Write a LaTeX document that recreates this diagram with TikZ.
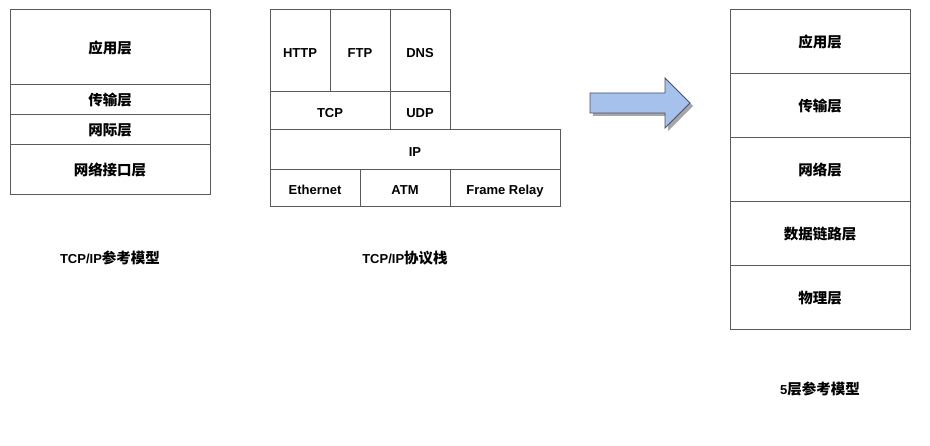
\documentclass[tikz,border=0pt]{standalone}
\usepackage{fontspec}
\setmainfont{Liberation Sans}
\newfontfamily\cjk{Noto Sans CJK SC}
\newcommand\zhtext[1]{{\cjk\bfseries\fontsize{14.5}{16}\selectfont #1}}
\definecolor{linegray}{RGB}{90,90,90}
\definecolor{arrowfill}{RGB}{166,194,236}
\definecolor{arrowline}{RGB}{70,80,100}
\begin{document}
\begin{tikzpicture}[x=1pt,y=-1pt,
  box/.style={draw=linegray, line width=1pt, inner sep=0pt, outer sep=0pt,
    anchor=north west, font=\fontsize{13}{15}\selectfont\bfseries},
  ltext/.style={text height=12.2pt, text depth=0pt},
  captext/.style={font=\fontsize{13}{15}\selectfont\bfseries, inner sep=0pt}]
\useasboundingbox[fill=white] (0,0) rectangle (930,446);
% left stack
\node[box, minimum width=200pt, minimum height=75pt] (l1) at (10,10) {\zhtext{应用层}};
\node[box, minimum width=200pt, minimum height=30pt] (l2) at (10,85) {\zhtext{传输层}};
\node[box, minimum width=200pt, minimum height=30pt] (l3) at (10,115) {\zhtext{网际层}};
\node[box, minimum width=200pt, minimum height=50pt] (l4) at (10,145) {\zhtext{网络接口层}};
\node[captext] (lcap) at (110,258) {TCP/IP\zhtext{参考模型}};
% middle stack
\node[box, ltext, minimum width=60pt, minimum height=82pt] (http) at (270,10) {HTTP};
\node[box, ltext, minimum width=60pt, minimum height=82pt] (ftp) at (330,10) {FTP};
\node[box, ltext, minimum width=60pt, minimum height=82pt] (dns) at (390,10) {DNS};
\node[box, ltext, minimum width=120pt, minimum height=38pt] (tcp) at (270,92) {TCP};
\node[box, ltext, minimum width=60pt, minimum height=38pt] (udp) at (390,92) {UDP};
\node[box, ltext, minimum width=290pt, minimum height=40pt] (ip) at (270,130) {IP};
\node[box, ltext, minimum width=90pt, minimum height=37pt] (eth) at (270,170) {Ethernet};
\node[box, ltext, minimum width=90pt, minimum height=37pt] (atm) at (360,170) {ATM};
\node[box, ltext, minimum width=110pt, minimum height=37pt] (fr) at (450,170) {Frame Relay};
\node[captext] (mcap) at (405,258) {TCP/IP\zhtext{协议栈}};
% arrow
\fill[black!35] (593,96) -- (668,96) -- (668,81) -- (693,106) -- (668,131) -- (668,116) -- (593,116) -- cycle;
\draw[fill=arrowfill, draw=arrowline, line width=0.8pt] (590,93) -- (665,93) -- (665,78) -- (690,103) -- (665,128) -- (665,113) -- (590,113) -- cycle;
% right stack
\node[box, minimum width=180pt, minimum height=64pt] (r1) at (730,10) {\zhtext{应用层}};
\node[box, minimum width=180pt, minimum height=64pt] (r2) at (730,74) {\zhtext{传输层}};
\node[box, minimum width=180pt, minimum height=64pt] (r3) at (730,138) {\zhtext{网络层}};
\node[box, minimum width=180pt, minimum height=64pt] (r4) at (730,202) {\zhtext{数据链路层}};
\node[box, minimum width=180pt, minimum height=64pt] (r5) at (730,266) {\zhtext{物理层}};
\node[captext] (rcap) at (820,389) {5\zhtext{层参考模型}};
\end{tikzpicture}
\end{document}
